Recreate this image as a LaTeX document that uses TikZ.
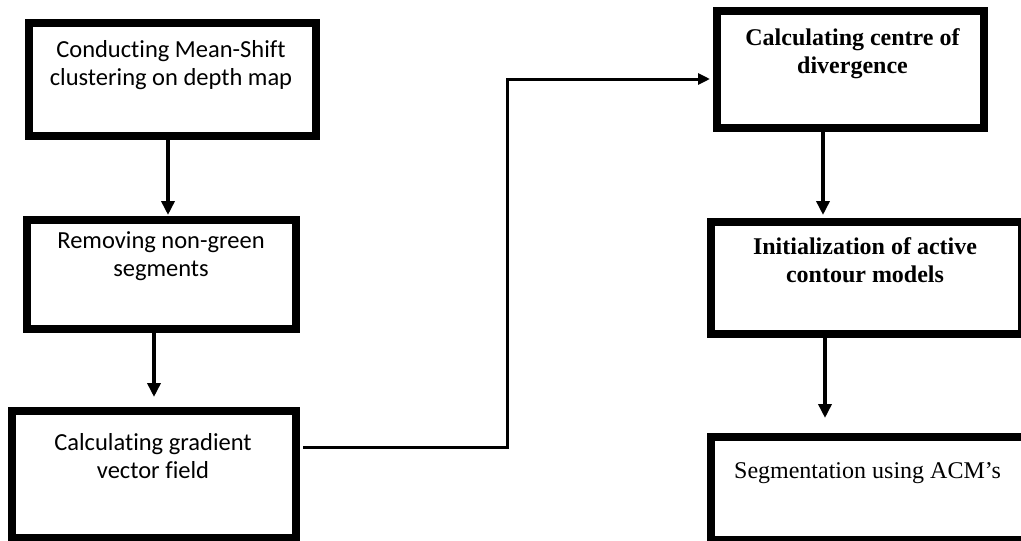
\documentclass[tikz,border=0pt]{standalone}
\usepackage{fontspec}
\setmainfont{Liberation Serif}
\newfontfamily\calibrifont[Ligatures=NoCommon]{Carlito}
\usetikzlibrary{arrows.meta}
% two centred lines, aligned on the baseline of the first one
\newcommand\twolines[2]{\begin{tabular}[t]{@{}c@{}}#1\\#2\end{tabular}}

\begin{document}
\begin{tikzpicture}[x=1pt,y=-1pt,
  box/.style={draw=black, line width=8pt, inner sep=0pt, rectangle},
  arr/.style={draw=black, line width=4pt, -{Triangle[width=13pt,length=14pt]}},
  link/.style={draw=black, line width=3pt, -{Triangle[width=11pt,length=12pt]}},
  sanslabel/.style={font=\calibrifont\fontsize{24.5}{28.5}\selectfont, anchor=base, inner sep=0pt},
  seriflabel/.style={font=\fontsize{24}{28.5}\selectfont, anchor=base, inner sep=0pt}]

\useasboundingbox (0,0) rectangle (1021,541);
\clip (0,0) rectangle (1021,541);
\fill[white] (0,0) rectangle (1021,541);

% left column
\node[box, minimum width=287pt, minimum height=113pt] (B1) at (172.5,79.5) {};
\node[box, minimum width=269pt, minimum height=109pt] (B2) at (161.5,274.5) {};
\node[box, minimum width=284pt, minimum height=127pt] (B3) at (154,474.5) {};

% right column
\node[box, minimum width=267pt, minimum height=117pt] (B4) at (850.5,69.5) {};
\node[box, minimum width=311pt, minimum height=112pt] (B5) at (866.5,278) {};
\node[box, minimum width=329pt, minimum height=103pt] (B6) at (875.5,488.5) {};

% labels
\node[sanslabel] (T1) at (171,57) {\twolines{Conducting Mean-Shift}{clustering on depth map}};
\node[sanslabel] (T2) at (161,248) {\twolines{Removing non-green}{segments}};
\node[sanslabel] (T3) at (153,450) {\twolines{Calculating gradient}{vector field}};
\node[seriflabel] (T4) at (852.5,45) {\bfseries\twolines{Calculating centre of}{divergence}};
\node[seriflabel] (T5) at (865,254) {\bfseries\twolines{Initialization of active}{contour models}};
\node[seriflabel] (T6) at (867.5,478) {Segmentation using ACM’s};

% arrows
\draw[arr, shorten >=1pt] ([xshift=-4.5pt]B1.south) -- ([xshift=6.5pt]B2.north);
\draw[arr, shorten >=10pt] ([xshift=-7.5pt]B2.south) -- (B3.north);
\draw[arr, shorten >=3pt] ([xshift=-27.5pt]B4.south) -- ([xshift=-43.5pt]B5.north);
\draw[arr, shorten >=15pt] ([xshift=-41.5pt]B5.south) -- ([xshift=-50.5pt]B6.north);

% connector between the columns
\coordinate (bend) at (507,79);
\draw[link, shorten >=3pt] ([xshift=3pt,yshift=27.5pt]B3.east) -| (bend) -- ([yshift=-9.5pt]B4.west);
\end{tikzpicture}
\end{document}
